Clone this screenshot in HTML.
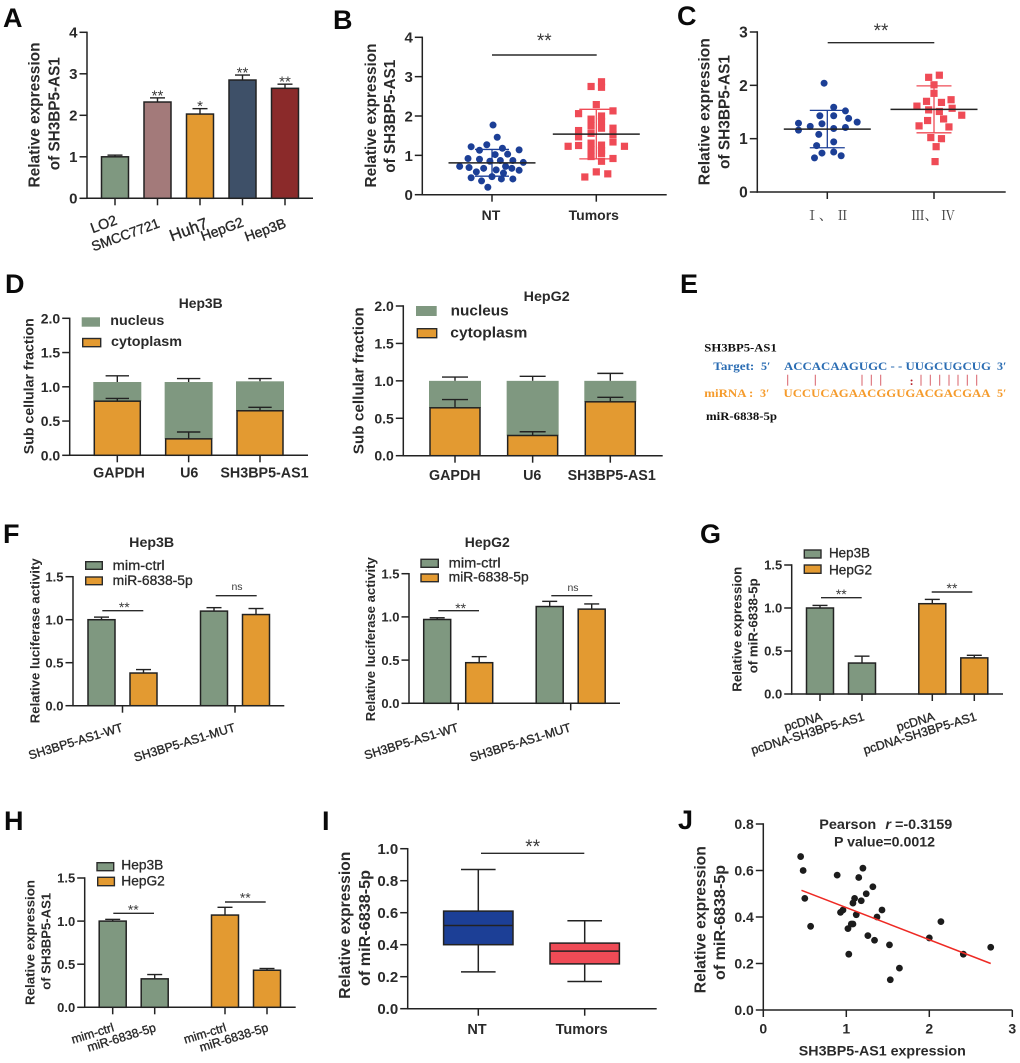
<!DOCTYPE html>
<html lang="en">
<head>
<meta charset="utf-8">
<title>SH3BP5-AS1 expression figure</title>
<style>
html,body{margin:0;padding:0;background:#fff;width:1020px;height:1063px;overflow:hidden}
svg{display:block;font-family:"Liberation Sans",Arial,sans-serif;filter:blur(.35px)}
.letter{font-size:27px;font-weight:bold;fill:#0a0a0a}
.yt{font-weight:bold;text-anchor:middle;fill:#2a2a2a}
.title{font-weight:bold;text-anchor:middle;fill:#2a2a2a;font-size:14px}
.leg{font-weight:bold;fill:#2a2a2a}
.leg2{fill:#2a2a2a;stroke:#2a2a2a;stroke-width:.3px}
.star{fill:#3a3a3a;text-anchor:middle}
.sig{stroke:#2a2a2a;stroke-width:1.4;fill:none}
.patch{stroke:#2a2a2a;stroke-width:1.4}
.ser{font-family:"Liberation Serif","Noto Serif CJK SC",serif;font-weight:bold}
.pair{stroke:#d8606a;stroke-width:1}
</style>
</head>
<body>
<svg id="figure" xmlns="http://www.w3.org/2000/svg" width="1020" height="1063" viewBox="0 0 1020 1063">
<rect width="1020" height="1063" fill="#fff"/>

<text class="letter" x="3" y="27">A</text>
<text class="letter" x="333" y="29">B</text>
<text class="letter" x="677" y="25">C</text>
<text class="letter" x="5" y="293">D</text>
<text class="letter" x="680" y="293">E</text>
<text class="letter" x="3" y="543">F</text>
<text class="letter" x="700" y="543">G</text>
<text class="letter" x="4" y="830">H</text>
<text class="letter" x="322" y="830">I</text>
<text class="letter" x="678" y="829">J</text>

<!-- Y axis titles -->
<g font-size="15.4">
<text class="yt" transform="translate(39.3 115) rotate(-90)" textLength="145" lengthAdjust="spacingAndGlyphs">Relative expression</text>
<text class="yt" transform="translate(59.3 113.7) rotate(-90)" textLength="113" lengthAdjust="spacingAndGlyphs">of SH3BP5-AS1</text>
</g>
<g font-size="15.4">
<text class="yt" transform="translate(376 115.5) rotate(-90)" textLength="144" lengthAdjust="spacingAndGlyphs">Relative expression</text>
<text class="yt" transform="translate(395 116.3) rotate(-90)" textLength="113" lengthAdjust="spacingAndGlyphs">of SH3BP5-AS1</text>
</g>
<g font-size="15.6">
<text class="yt" transform="translate(709.3 111.7) rotate(-90)" textLength="147" lengthAdjust="spacingAndGlyphs">Relative expression</text>
<text class="yt" transform="translate(729.3 112) rotate(-90)" textLength="114" lengthAdjust="spacingAndGlyphs">of SH3BP5-AS1</text>
</g>
<text class="yt" font-size="14" transform="translate(33.3 386.2) rotate(-90)" textLength="136" lengthAdjust="spacingAndGlyphs">Sub cellular fraction</text>
<text class="yt" font-size="15" transform="translate(363.3 380.8) rotate(-90)" textLength="147" lengthAdjust="spacingAndGlyphs">Sub cellular fraction</text>
<text class="yt" font-size="13" transform="translate(39.3 640.8) rotate(-90)" textLength="165" lengthAdjust="spacingAndGlyphs">Relative luciferase activity</text>
<text class="yt" font-size="13" transform="translate(375 639.2) rotate(-90)" textLength="164" lengthAdjust="spacingAndGlyphs">Relative luciferase activity</text>
<g font-size="13.3">
<text class="yt" transform="translate(741.7 629.2) rotate(-90)" textLength="125" lengthAdjust="spacingAndGlyphs">Relative expression</text>
<text class="yt" transform="translate(757.3 625.8) rotate(-90)" textLength="95" lengthAdjust="spacingAndGlyphs">of miR-6838-5p</text>
</g>
<g font-size="13.3">
<text class="yt" transform="translate(34.3 942.5) rotate(-90)" textLength="125" lengthAdjust="spacingAndGlyphs">Relative expression</text>
<text class="yt" transform="translate(50.7 941.3) rotate(-90)" textLength="97" lengthAdjust="spacingAndGlyphs">of SH3BP5-AS1</text>
</g>
<g font-size="15.6">
<text class="yt" transform="translate(350 925.2) rotate(-90)" textLength="147" lengthAdjust="spacingAndGlyphs">Relative expression</text>
<text class="yt" transform="translate(370 928) rotate(-90)" textLength="116" lengthAdjust="spacingAndGlyphs">of miR-6838-5p</text>
</g>
<g font-size="15.6">
<text class="yt" transform="translate(705.7 919.7) rotate(-90)" textLength="147" lengthAdjust="spacingAndGlyphs">Relative expression</text>
<text class="yt" transform="translate(725 922.5) rotate(-90)" textLength="115" lengthAdjust="spacingAndGlyphs">of miR-6838-5p</text>
</g>

<!-- Chart titles -->
<text class="title" x="200.7" y="308" textLength="44" lengthAdjust="spacingAndGlyphs">Hep3B</text>
<text class="title" x="546.7" y="301" textLength="46" lengthAdjust="spacingAndGlyphs">HepG2</text>
<text class="title" x="151.7" y="547" textLength="45" lengthAdjust="spacingAndGlyphs">Hep3B</text>
<text class="title" x="487.3" y="547" textLength="45" lengthAdjust="spacingAndGlyphs">HepG2</text>

<!-- Legends -->
<g>
<rect x="81.7" y="317.3" width="18.3" height="9.4" fill="#7f9880"/>
<text class="leg" x="110.3" y="325" font-size="14" textLength="54" lengthAdjust="spacingAndGlyphs">nucleus</text>
<rect class="patch" x="82.7" y="338.5" width="18" height="8.2" fill="#e39a31"/>
<text class="leg" x="111" y="346" font-size="14" textLength="71" lengthAdjust="spacingAndGlyphs">cytoplasm</text>
</g>
<g>
<rect x="416" y="306" width="20.7" height="10" fill="#7f9880"/>
<text class="leg" x="450.7" y="315.7" font-size="15" textLength="58" lengthAdjust="spacingAndGlyphs">nucleus</text>
<rect class="patch" x="417.3" y="328.7" width="19.4" height="9" fill="#e39a31"/>
<text class="leg" x="450.3" y="337.3" font-size="15" textLength="77" lengthAdjust="spacingAndGlyphs">cytoplasm</text>
</g>
<g>
<rect class="patch" x="85.7" y="561.7" width="16.6" height="7.6" fill="#7f9880"/>
<text class="leg2" x="112.7" y="570" font-size="13.5" textLength="52" lengthAdjust="spacingAndGlyphs">mim-ctrl</text>
<rect class="patch" x="85.7" y="577" width="16.6" height="7.7" fill="#e39a31"/>
<text class="leg2" x="112.7" y="585" font-size="13.5" textLength="80" lengthAdjust="spacingAndGlyphs">miR-6838-5p</text>
</g>
<g>
<rect class="patch" x="421" y="559.3" width="17.3" height="8" fill="#7f9880"/>
<text class="leg2" x="448.7" y="567.7" font-size="13.5" textLength="52" lengthAdjust="spacingAndGlyphs">mim-ctrl</text>
<rect class="patch" x="421" y="574" width="17.3" height="7.7" fill="#e39a31"/>
<text class="leg2" x="448.7" y="581.7" font-size="13.5" textLength="80" lengthAdjust="spacingAndGlyphs">miR-6838-5p</text>
</g>
<g>
<rect class="patch" x="804.3" y="550" width="16.7" height="8" fill="#7f9880"/>
<text class="leg2" x="829" y="557.3" font-size="13.5" textLength="41" lengthAdjust="spacingAndGlyphs">Hep3B</text>
<rect class="patch" x="804.3" y="565" width="16.7" height="8.3" fill="#e39a31"/>
<text class="leg2" x="829" y="574.3" font-size="13.5" textLength="43" lengthAdjust="spacingAndGlyphs">HepG2</text>
</g>
<g>
<rect class="patch" x="97" y="862.7" width="16.7" height="8" fill="#7f9880"/>
<text class="leg2" x="121.3" y="869.3" font-size="13.5" textLength="42" lengthAdjust="spacingAndGlyphs">Hep3B</text>
<rect class="patch" x="97.7" y="877.3" width="16.7" height="8.4" fill="#e39a31"/>
<text class="leg2" x="121.3" y="885.7" font-size="13.5" textLength="43.5" lengthAdjust="spacingAndGlyphs">HepG2</text>
</g>

<!-- Significance brackets -->
<g>
<line class="sig" x1="492" y1="55" x2="596.7" y2="55"/><text class="star" x="544.3" y="47" font-size="19">**</text>
</g>
<g>
<line class="sig" x1="827.7" y1="42.7" x2="934.3" y2="42.7"/><text class="star" x="881" y="37" font-size="19">**</text>
</g>
<g>
<line class="sig" x1="102.3" y1="610.7" x2="143.3" y2="610.7"/><text class="star" x="124.3" y="612" font-size="14">**</text>
<line class="sig" x1="215.7" y1="595.7" x2="256.7" y2="595.7"/><text class="star" x="237" y="590" font-size="10.5">ns</text>
</g>
<g>
<line class="sig" x1="438.3" y1="610.7" x2="479" y2="610.7"/><text class="star" x="460.7" y="613" font-size="14">**</text>
<line class="sig" x1="551.3" y1="595.7" x2="592.3" y2="595.7"/><text class="star" x="573" y="591" font-size="10.5">ns</text>
</g>
<g>
<line class="sig" x1="821" y1="597.7" x2="861.7" y2="597.7"/><text class="star" x="841.3" y="599" font-size="14">**</text>
<line class="sig" x1="931.7" y1="592" x2="972.3" y2="592"/><text class="star" x="952" y="593" font-size="14">**</text>
</g>
<g>
<line class="sig" x1="113.3" y1="913.3" x2="154" y2="913.3"/><text class="star" x="133.3" y="914.3" font-size="14">**</text>
<line class="sig" x1="225" y1="902" x2="265.7" y2="902"/><text class="star" x="245.3" y="902.7" font-size="14">**</text>
</g>
<g>
<line class="sig" x1="481" y1="853.3" x2="584.3" y2="853.3"/><text class="star" x="532.7" y="853" font-size="19">**</text>
</g>

<!-- Panel E -->
<g font-size="12">
<text class="ser" x="704.3" y="351.7" fill="#111" textLength="72.5" lengthAdjust="spacingAndGlyphs">SH3BP5-AS1</text>
<text class="ser" x="713.3" y="370" fill="#2b6db3" textLength="41" lengthAdjust="spacingAndGlyphs">Target:</text>
<text class="ser" x="761" y="370" fill="#2b6db3">5′</text>
<text class="ser" x="784" y="370" fill="#2b6db3" textLength="207" lengthAdjust="spacingAndGlyphs">ACCACAAGUGC - - UUGCUGCUG</text>
<text class="ser" x="997" y="370" fill="#2b6db3">3′</text>
<text class="ser" x="704.3" y="397" fill="#f59b2c" textLength="49" lengthAdjust="spacingAndGlyphs">miRNA :</text>
<text class="ser" x="760" y="397" fill="#f59b2c">3′</text>
<text class="ser" x="783.5" y="397" fill="#f59b2c" textLength="207" lengthAdjust="spacingAndGlyphs">UCCUCAGAACGGUGACGACGAA</text>
<text class="ser" x="997" y="397" fill="#f59b2c">5′</text>
<text class="ser" x="706" y="420" fill="#111" textLength="71" lengthAdjust="spacingAndGlyphs">miR-6838-5p</text>
<g>
<line class="pair" x1="787.7" y1="374.7" x2="787.7" y2="385.7"/><line class="pair" x1="815.3" y1="374.7" x2="815.3" y2="385.7"/>
<line class="pair" x1="862" y1="374.7" x2="862" y2="385.7"/><line class="pair" x1="871.3" y1="374.7" x2="871.3" y2="385.7"/>
<line class="pair" x1="880.7" y1="374.7" x2="880.7" y2="385.7"/><line class="pair" x1="921" y1="374.7" x2="921" y2="385.7"/>
<line class="pair" x1="930.3" y1="374.7" x2="930.3" y2="385.7"/><line class="pair" x1="939.7" y1="374.7" x2="939.7" y2="385.7"/>
<line class="pair" x1="949" y1="374.7" x2="949" y2="385.7"/><line class="pair" x1="958" y1="374.7" x2="958" y2="385.7"/>
<line class="pair" x1="967.3" y1="374.7" x2="967.3" y2="385.7"/><line class="pair" x1="976.7" y1="374.7" x2="976.7" y2="385.7"/>
<text class="ser" x="909.6" y="385" fill="#b8242c" font-size="12">:</text>
</g>
</g>

<!-- Panel J annotation -->
<text class="yt" x="885.8" y="829" font-size="14" textLength="133" lengthAdjust="spacingAndGlyphs">Pearson <tspan dx="5" font-style="italic">r</tspan> =-0.3159</text>
<text class="yt" x="884.5" y="846.7" font-size="14" textLength="101" lengthAdjust="spacingAndGlyphs">P value=0.0012</text>
<text class="yt" x="882.3" y="1055.7" font-size="14" textLength="167" lengthAdjust="spacingAndGlyphs">SH3BP5-AS1 expression</text>
</svg>

<script>
// ---------- Panel A ----------
const aCategories = ['LO2', 'SMCC7721', 'Huh7', 'HepG2', 'Hep3B'];
const aValues = [1.0, 2.32, 2.03, 2.85, 2.65];
const aErrors = [0.04, 0.1, 0.13, 0.12, 0.1];
const aStars = ['', '**', '*', '**', '**'];
const aTicks = ['0', '1', '2', '3', '4'];
// ---------- Panel B ----------
const bCategories = ['NT', 'Tumors'];
const bTicks = ['0', '1', '2', '3', '4'];
const bNtValues = [1.77,1.46,1.22,1.27,1.13,1.18,1.14,1.02,1.03,0.92,0.90,0.85,0.87,0.87,0.82,0.72,0.69,0.67,0.72,0.67,0.63,0.58,0.62,0.55,0.43,0.46,0.40,0.40,0.35,0.19];
const bNtJitter = [0.01,0.05,-0.20,-0.05,-0.12,0.10,0.26,0.03,0.15,-0.23,-0.12,-0.02,0.08,0.20,0.30,-0.31,-0.22,-0.08,0.13,0.19,0.04,-0.15,0.26,0.11,-0.20,0,0.09,0.20,-0.10,-0.04];
const bTumorValues = [2.87,2.73,2.75,2.29,2.13,2.06,1.92,2.0,1.86,1.63,1.75,1.69,1.69,1.47,1.56,1.53,1.23,1.25,1.23,1.34,1.31,1.26,1.14,1.12,0.97,1.05,0.92,0.85,0.45,0.58,0.53];
const bTumorJitter = [0.05,0.05,-0.05,0,0.16,-0.17,-0.05,0.05,0.05,-0.17,-0.05,0.05,0.16,-0.17,-0.05,0.16,-0.27,-0.17,0.27,0.16,-0.05,0.05,-0.05,0.05,-0.05,0.05,0.16,0.05,-0.11,0,0.11];
const bMeans = [0.81, 1.54];
const bSds = [0.34, 0.63];
// ---------- Panel C ----------
const cCategories = ['Ⅰ、 Ⅱ', 'Ⅲ、 Ⅳ'];
const cTicks = ['0', '1', '2', '3'];
const cEarlyValues = [2.04,1.59,1.52,1.43,1.43,1.38,1.31,1.29,1.23,1.28,1.16,1.19,1.21,1.08,0.94,0.87,0.73,0.75,0.68,0.64];
const cEarlyJitter = [-0.03,0.06,0.17,-0.07,0.06,0.2,0.28,-0.27,-0.16,-0.05,-0.27,0.06,0.17,-0.08,0.06,-0.1,-0.05,0.06,0.13,-0.12];
const cLateValues = [2.19,2.15,2.01,1.85,1.73,1.70,1.68,1.61,1.57,1.54,1.51,1.44,1.37,1.34,1.24,1.22,1.02,1.0,0.85,0.57];
const cLateJitter = [0.05,-0.05,0,0,0.16,-0.07,0.07,-0.16,0.17,-0.05,0.05,0.26,0.09,-0.06,-0.14,0.14,-0.03,0.07,0.02,0.01];
const cMeans = [1.18, 1.55];
const cSds = [0.35, 0.44];
// ---------- Panel D ----------
const dCategories = ['GAPDH', 'U6', 'SH3BP5-AS1'];
const dTicks = ['0.0', '0.5', '1.0', '1.5', '2.0'];
const d1Totals = [1.07, 1.07, 1.08];
const d1Cytoplasm = [0.79, 0.24, 0.65];
const d1TotalErrors = [0.09, 0.05, 0.04];
const d1CytoplasmErrors = [0.04, 0.1, 0.05];
const d2Totals = [1.0, 1.0, 1.0];
const d2Cytoplasm = [0.64, 0.27, 0.72];
const d2TotalErrors = [0.05, 0.06, 0.1];
const d2CytoplasmErrors = [0.11, 0.05, 0.06];
// ---------- Panels F, G, H ----------
const fTicks = ['0.0', '0.5', '1.0', '1.5'];
const fCategories = ['SH3BP5-AS1-WT', 'SH3BP5-AS1-MUT'];
const f1Values = [1.0, 0.38, 1.10, 1.06];
const f1Errors = [0.03, 0.04, 0.04, 0.07];
const f2Values = [0.97, 0.47, 1.12, 1.09];
const f2Errors = [0.02, 0.07, 0.06, 0.06];
const gCategories = ['pcDNA', 'pcDNA-SH3BP5-AS1', 'pcDNA', 'pcDNA-SH3BP5-AS1'];
const gValues = [1.0, 0.36, 1.05, 0.42];
const gErrors = [0.03, 0.08, 0.05, 0.03];
const hCategories = ['mim-ctrl', 'miR-6838-5p', 'mim-ctrl', 'miR-6838-5p'];
const hValues = [1.0, 0.33, 1.07, 0.43];
const hErrors = [0.02, 0.05, 0.09, 0.02];
// ---------- Panel I ----------
const iCategories = ['NT', 'Tumors'];
const iTicks = ['0.0', '0.2', '0.4', '0.6', '0.8', '1.0'];
const iMins = [0.23, 0.17];
const iQ1s = [0.40, 0.28];
const iMedians = [0.52, 0.36];
const iQ3s = [0.61, 0.41];
const iMaxes = [0.87, 0.55];
// ---------- Panel J ----------
const jYTicks = ['0.0', '0.2', '0.4', '0.6', '0.8'];
const jXTicks = ['0', '1', '2', '3'];
const jX = [0.45,0.48,0.50,0.57,0.89,1.20,1.15,1.32,1.24,1.10,1.08,1.18,1.43,0.93,0.96,1.12,1.37,1.02,1.06,1.08,1.26,1.34,1.52,1.03,1.64,1.53,2.0,2.14,2.41,2.74];
const jY = [0.66,0.60,0.48,0.36,0.58,0.61,0.57,0.53,0.50,0.48,0.46,0.47,0.43,0.42,0.43,0.41,0.40,0.35,0.37,0.37,0.32,0.30,0.28,0.24,0.18,0.13,0.31,0.38,0.24,0.27];
const jFitX = [0.46, 2.74];
const jFitY = [0.515, 0.20];

const SVGNS = 'http://www.w3.org/2000/svg';
const INK = '#222';
const GREEN = '#7f9880';
const ORANGE = '#e39a31';
const BLUE = '#1c3f96';
const RED = '#ef4b56';
const figure = document.getElementById('figure');

function add(parent, tag, attrs, name) {
  const node = document.createElementNS(SVGNS, tag);
  for (const key in attrs) node.setAttribute(key, attrs[key]);
  
  
  parent.appendChild(node);
  return node;
}
function linear(d0, d1, r0, r1) {
  return v => r0 + (v - d0) / (d1 - d0) * (r1 - r0);
}
function line(parent, x1, y1, x2, y2, name, color, width) {
  return add(parent, 'line', {x1: x1, y1: y1, x2: x2, y2: y2, stroke: color || INK, 'stroke-width': width || 1.5}, name);
}
function label(parent, x, y, str, size, name, extra) {
  const attrs = Object.assign({x: x, y: y, 'font-size': size, fill: '#2a2a2a', 'font-weight': 'bold'}, extra || {});
  const t = add(parent, 'text', attrs, name);
  t.textContent = str;
  return t;
}
function rotatedLabel(parent, x, y, str, size, angle, name) {
  const t = add(parent, 'text', {
    transform: 'translate(' + x + ' ' + y + ') rotate(' + angle + ')',
    'text-anchor': 'end', 'font-size': size, fill: '#2a2a2a', stroke: '#2a2a2a', 'stroke-width': 0.35
  }, name);
  t.textContent = str;
  return t;
}
function axes(id, f, ticks) {
  const g = add(figure, 'g', {}, id + '-axes');
  const y = linear(0, parseFloat(ticks[ticks.length - 1]), f.y0, f.yTop);
  line(g, f.x, f.yTop - 0.7, f.x, f.y0 + 0.7, id + '-y-axis');
  line(g, f.x - 0.7, f.y0, f.xEnd, f.y0, id + '-x-axis');
  ticks.forEach(tick => {
    const v = parseFloat(tick);
    line(g, f.x - (f.tickLen || 7.5), y(v), f.x, y(v), id + '-y-tick');
    label(g, f.x - (f.tickLen || 7.5) - 2, y(v) + f.tickSize * 0.36, tick, f.tickSize, id + '-y-tick-label', {'text-anchor': 'end'});
  });
  return y;
}
function bar(g, cx, w, top, base, fill, name) {
  add(g, 'rect', {x: cx - w / 2, y: top, width: w, height: base - top, fill: fill, stroke: INK, 'stroke-width': 1.5}, name);
}
function errorBar(g, cx, from, to, half, name, color) {
  line(g, cx, from, cx, to, name + '-stem', color, 1.4);
  line(g, cx - half, to, cx + half, to, name + '-cap', color, 1.4);
}
function bottomTick(g, x, f, name) {
  line(g, x, f.y0, x, f.y0 + 7, name);
}

// Panel A
(function () {
  const f = {x: 87, y0: 198.3, yTop: 32.3, xEnd: 313, tickSize: 15};
  const y = axes('panel-a', f, aTicks);
  const x = linear(0, 4, 115, 285);
  const g = add(figure, 'g', {}, 'panel-a-bars');
  const fills = ['#7f9880', '#a37a7a', '#e39a31', '#3e5068', '#8b2a2a'];
  const labelEnds = [[3, 224], [3, 227], [9, 228], [2, 226], [2, 227]];
  const labelSizes = [14.3, 13.8, 16.5, 14, 14];
  aValues.forEach((v, i) => {
    errorBar(g, x(i), y(v), y(v + aErrors[i]), 7.5, 'panel-a-error-' + i);
    bar(g, x(i), 27, y(v), y(0), fills[i], 'bar-' + aCategories[i].toLowerCase());
    bottomTick(g, x(i), f, 'panel-a-x-tick');
    rotatedLabel(g, x(i) + labelEnds[i][0], labelEnds[i][1], aCategories[i], labelSizes[i], -20, 'category-label-' + aCategories[i].toLowerCase());
    if (aStars[i]) {
      const s = add(g, 'text', {x: x(i), y: y(v + aErrors[i]) - 5.5 + 8, 'font-size': 15, 'text-anchor': 'middle', fill: '#3a3a3a'}, 'significance-stars');
      s.textContent = aStars[i];
    }
  });
})();

// Scatter panels
function scatterPanel(id, f, ticks, categories, groups, means, sds, catLabel) {
  const y = axes(id, f, ticks);
  const x = linear(0, 1, f.cat0, f.cat1);
  const g = add(figure, 'g', {}, id + '-scatter');
  groups.forEach((group, k) => {
    const color = k === 0 ? BLUE : RED;
    bottomTick(g, x(k), f, id + '-x-tick');
    group.values.forEach((v, i) => {
      const px = x(k + group.jitter[i]);
      if (k === 0) {
        add(g, 'circle', {cx: px, cy: y(v), r: 3.5, fill: color}, id + '-point-nt');
      } else {
        add(g, 'rect', {x: px - 3.6, y: y(v) - 3.6, width: 7.2, height: 7.2, fill: color}, id + '-point-tumor');
      }
    });
    const cap = k === 0 ? f.capA : f.capB;
    line(g, x(k), y(means[k] + sds[k]), x(k), y(means[k] - sds[k]), id + '-sd-stem', color, 1.3);
    line(g, x(k) - cap, y(means[k] + sds[k]), x(k) + cap, y(means[k] + sds[k]), id + '-sd-cap-upper', color, 1.3);
    line(g, x(k) - cap, y(means[k] - sds[k]), x(k) + cap, y(means[k] - sds[k]), id + '-sd-cap-lower', color, 1.3);
    line(g, x(k) - 43.5, y(means[k]), x(k) + 43.5, y(means[k]), id + '-mean-line', '#222', 1.5);
    catLabel(g, x(k), categories[k], k);
  });
}
scatterPanel('panel-b', {x: 422.3, y0: 194.7, yTop: 37.3, xEnd: 666.7, tickSize: 15, cat0: 492, cat1: 596.3, capA: 17, capB: 17},
  bTicks, bCategories,
  [{values: bNtValues, jitter: bNtJitter}, {values: bTumorValues, jitter: bTumorJitter}], bMeans, bSds,
  (g, x, str, k) => label(g, x - (k ? 2.5 : 1), 220, str, 14, 'category-label-' + str.toLowerCase(), {'text-anchor': 'middle'}));
scatterPanel('panel-c', {x: 757.3, y0: 192, yTop: 32, xEnd: 1005.7, tickSize: 15.5, cat0: 827.3, cat1: 934, capA: 17.5, capB: 17.5},
  cTicks, cCategories,
  [{values: cEarlyValues, jitter: cEarlyJitter}, {values: cLateValues, jitter: cLateJitter}], cMeans, cSds,
  (g, x, str, k) => {
    const t = add(g, 'text', {x: x - (k ? 1 : 0), y: 220, 'font-size': 13.5, 'text-anchor': 'middle', fill: '#3c3c3c', style: 'font-family:"Liberation Serif","Noto Serif CJK SC",serif'}, 'category-label-stage-' + k);
    t.textContent = str;
  });

// Panel D
function stackedPanel(id, f, totals, cyto, totalErr, cytoErr, w, cap, size, labelY, labelOffsets) {
  const y = axes(id, f, dTicks);
  const x = linear(0, 2, f.cat0, f.cat2);
  const g = add(figure, 'g', {}, id + '-bars');
  dCategories.forEach((name, i) => {
    errorBar(g, x(i), y(totals[i]), y(totals[i] + totalErr[i]), cap, id + '-nucleus-error-' + i);
    add(g, 'rect', {x: x(i) - w / 2 - 1, y: y(totals[i]), width: w + 2, height: y(cyto[i]) - y(totals[i]), fill: GREEN}, id + '-nucleus-bar-' + i);
    errorBar(g, x(i), y(cyto[i]), y(cyto[i] + cytoErr[i]), cap, id + '-cytoplasm-error-' + i);
    bar(g, x(i), w, y(cyto[i]), y(0), ORANGE, id + '-cytoplasm-bar-' + i);
    bottomTick(g, x(i), f, id + '-x-tick');
    label(g, x(i) + labelOffsets[i], labelY, name, size, id + '-category-label-' + i, {'text-anchor': 'middle'});
  });
}
stackedPanel('panel-d-left', {x: 69.7, y0: 455.3, yTop: 318.3, xEnd: 308, tickSize: 14, cat0: 117.3, cat2: 260},
  d1Totals, d1Cytoplasm, d1TotalErrors, d1CytoplasmErrors, 46, 11.7, 14.3, 477.3, [1.7, 0.6, 4.5]);
stackedPanel('panel-d-right', {x: 403.3, y0: 455.7, yTop: 306, xEnd: 662.7, tickSize: 14, cat0: 455, cat2: 610.3},
  d2Totals, d2Cytoplasm, d2TotalErrors, d2CytoplasmErrors, 50, 13, 14.3, 480, [-0.2, -0.4, 1.4]);

// Grouped bars
function groupedPanel(id, f, ticks, values, errors, colors, labels, labelFn) {
  const y = axes(id, f, ticks);
  const group = linear(0, 1, f.group0, f.group1);
  const g = add(figure, 'g', {}, id + '-bars');
  values.forEach((v, i) => {
    const gi = Math.floor(i / 2);
    const cx = group(gi) + (i % 2 === 0 ? -f.dodge : f.dodge);
    errorBar(g, cx, y(v), y(v + errors[i]), 7.5, id + '-error-' + i);
    bar(g, cx, 27, y(v), y(0), colors[i], id + '-bar-' + i);
    if (f.tickEachBar) bottomTick(g, cx, f, id + '-x-tick');
    if (f.tickEachBar) labelFn(g, cx, labels[i], i);
  });
  if (!f.tickEachBar) {
    labels.forEach((str, i) => {
      bottomTick(g, group(i), f, id + '-x-tick');
      labelFn(g, group(i), str, i);
    });
  }
}
const twoColorsSame = [GREEN, ORANGE, GREEN, ORANGE];
const twoColorsByCell = [GREEN, GREEN, ORANGE, ORANGE];
groupedPanel('panel-f-left', {x: 73, y0: 705.7, yTop: 576.7, xEnd: 284.3, tickSize: 13, group0: 122.5, group1: 235, dodge: 21},
  fTicks, f1Values, f1Errors, twoColorsSame, fCategories,
  (g, x, str, i) => rotatedLabel(g, x + 1, 731, str, 12.3, -17, 'category-label-' + str.toLowerCase()));
groupedPanel('panel-f-right', {x: 409, y0: 703.3, yTop: 573.7, xEnd: 620, tickSize: 13, group0: 458.2, group1: 570.7, dodge: 21},
  fTicks, f2Values, f2Errors, twoColorsSame, fCategories,
  (g, x, str, i) => rotatedLabel(g, x + 1, 731, str, 12.3, -17, 'category-label-' + str.toLowerCase()));
groupedPanel('panel-g', {x: 791.7, y0: 694, yTop: 565, xEnd: 1003, tickSize: 13, group0: 841, group1: 953.3, dodge: 21, tickEachBar: true},
  fTicks, gValues, gErrors, twoColorsByCell, gCategories,
  (g, x, str, i) => rotatedLabel(g, x + 3, 720, str, 12.3, -17, 'category-label-' + i));
groupedPanel('panel-h', {x: 84.7, y0: 1007.3, yTop: 878, xEnd: 295.7, tickSize: 13, group0: 133.7, group1: 246, dodge: 21, tickEachBar: true},
  fTicks, hValues, hErrors, twoColorsByCell, hCategories,
  (g, x, str, i) => rotatedLabel(g, x + 2, 1031, str, 12.3, -17, 'category-label-' + i));

// Panel I
(function () {
  const f = {x: 407.7, y0: 1008.7, yTop: 848.7, xEnd: 656.7, tickSize: 15};
  const y = axes('panel-i', f, iTicks);
  const x = linear(0, 1, 478.3, 584.7);
  const g = add(figure, 'g', {}, 'panel-i-boxes');
  const fills = [BLUE, RED];
  iCategories.forEach((name, k) => {
    const id = 'panel-i-' + name.toLowerCase();
    line(g, x(k), y(iMins[k]), x(k), y(iMaxes[k]), id + '-whisker');
    line(g, x(k) - 17.3, y(iMaxes[k]), x(k) + 17.3, y(iMaxes[k]), id + '-cap-max');
    line(g, x(k) - 17.3, y(iMins[k]), x(k) + 17.3, y(iMins[k]), id + '-cap-min');
    add(g, 'rect', {x: x(k) - 34.7, y: y(iQ3s[k]), width: 69.4, height: y(iQ1s[k]) - y(iQ3s[k]), fill: fills[k], stroke: INK, 'stroke-width': 1.5}, id + '-box');
    line(g, x(k) - 34.7, y(iMedians[k]), x(k) + 34.7, y(iMedians[k]), id + '-median');
    bottomTick(g, x(k), f, 'panel-i-x-tick');
    label(g, x(k) - (k ? 3 : 1.3), 1034, name, 14.5, 'category-label-' + id, {'text-anchor': 'middle'});
  });
})();

// Panel J
(function () {
  const f = {x: 763.3, y0: 1010, yTop: 824, xEnd: 1012.3, tickSize: 14};
  const y = axes('panel-j', f, jYTicks);
  const x = linear(0, 3, 763.3, 1012.3);
  const g = add(figure, 'g', {}, 'panel-j-scatter');
  jXTicks.forEach(tick => {
    bottomTick(g, x(parseFloat(tick)), f, 'panel-j-x-tick');
    label(g, x(parseFloat(tick)), 1033.3, tick, 14, 'panel-j-x-tick-label', {'text-anchor': 'middle'});
  });
  jX.forEach((v, i) => {
    add(g, 'circle', {cx: x(v), cy: y(jY[i]), r: 3.4, fill: '#1c1c1c'}, 'panel-j-point');
  });
  line(g, x(jFitX[0]), y(jFitY[0]), x(jFitX[1]), y(jFitY[1]), 'panel-j-regression-line', '#ee2a24', 1.5);
})();
</script>
</body>
</html>
